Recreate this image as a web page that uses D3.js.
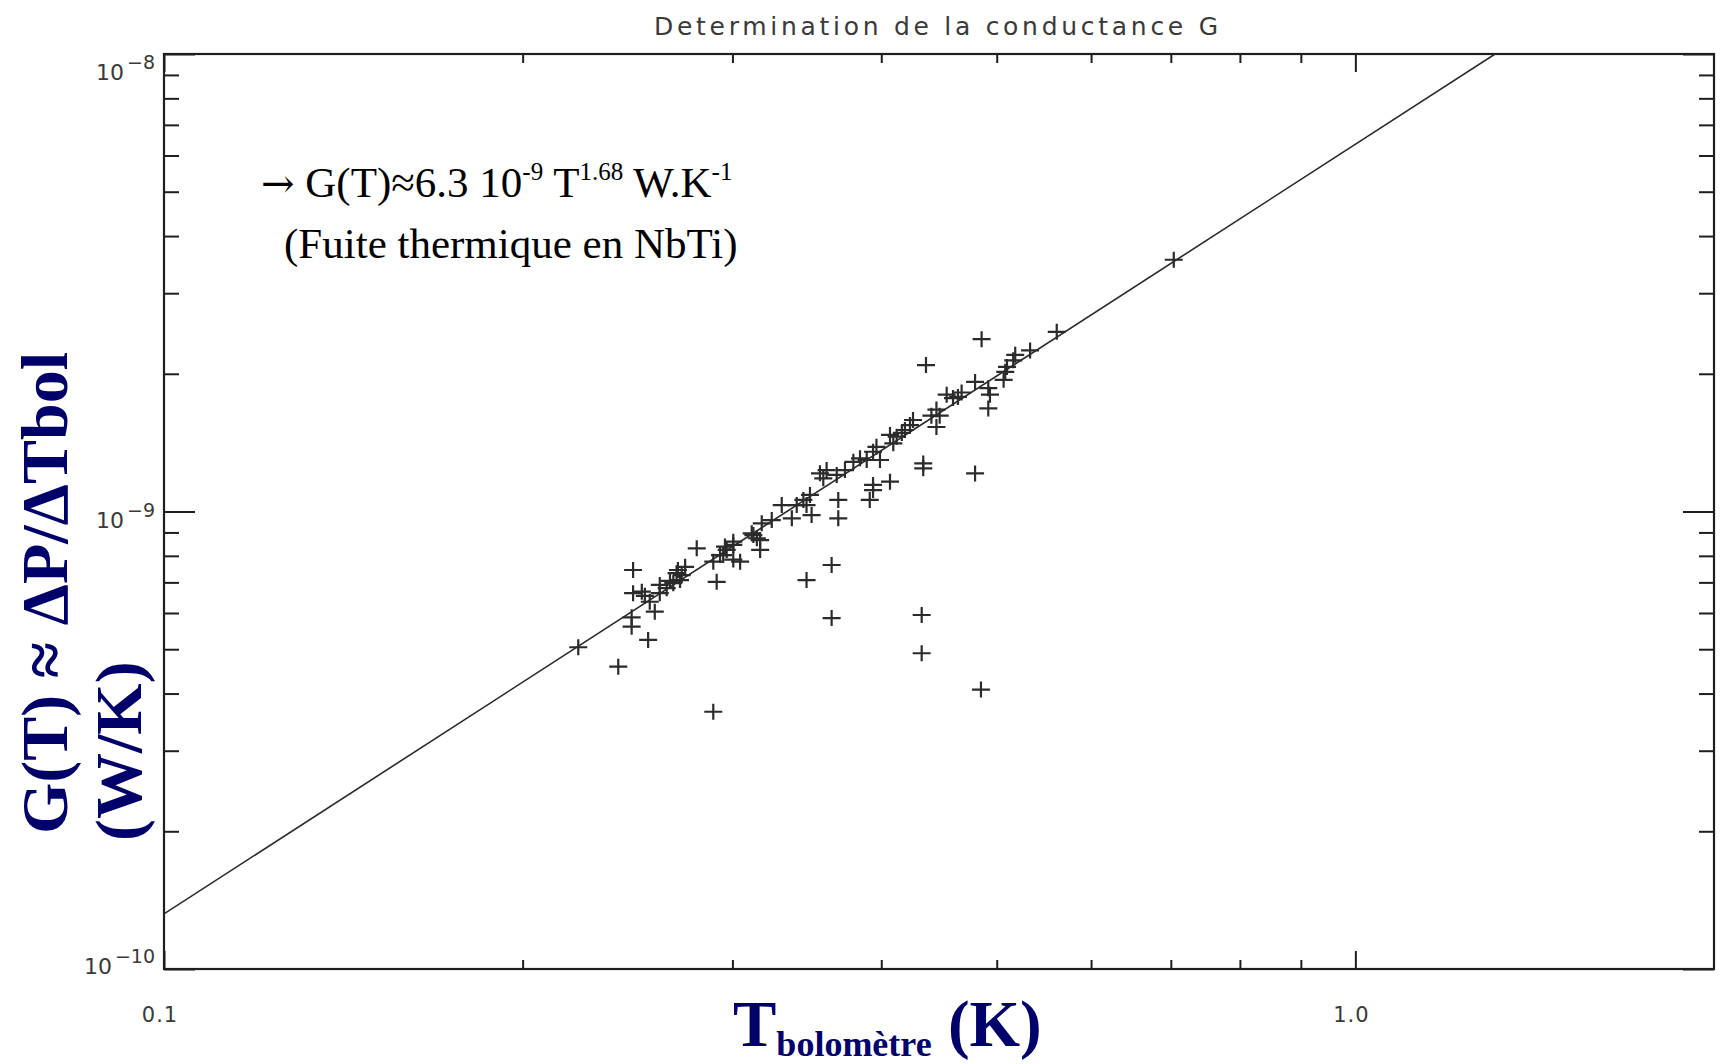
<!DOCTYPE html>
<html><head><meta charset="utf-8">
<script src="https://cdn.jsdelivr.net/npm/d3@7"></script>
<style>body{margin:0;background:#fff}</style>
</head><body><svg id="c" width="1720" height="1064"></svg>
<script>
// ---------- data ----------
const tempK = [
 0.2227,0.2406,0.2476,0.2476,0.2469,0.2469,0.2549,0.2891,0.2910,0.3462,
 0.3634,0.3634,0.4325,0.4325,0.4850,0.3681,0.3681,0.3937,0.3937,0.3912,
 0.4068,0.4338,0.4338,0.4795,0.4919,0.4856,0.4361,0.5615,0.7040,0.5333,
 0.5182,0.5162,0.5100,0.5083,0.5067,0.4795,0.4919,0.4935,0.4639,0.4595,
 0.4539,0.4672,0.4450,0.4478,0.4407,0.4450,0.4253,0.4228,0.4187,0.4162,
 0.2518,0.2557,0.2582,0.2607,0.2642,0.2676,0.2711,0.2720,0.2738,0.2693,
 0.2800,0.2891,0.2929,0.2957,0.3005,0.3045,0.2967,0.3124,0.3165,0.3165,
 0.3005,0.2947,0.3114,0.3145,0.3175,0.3237,0.3300,0.3365,0.3397,0.3441,
 0.3485,0.3496,0.3462,0.3553,0.3599,0.3576,0.3670,0.3729,0.3790,0.3839,
 0.3889,0.3937,0.3990,0.3963,0.4068,0.4121,0.4094,
 0.2607,0.2659,0.2700,0.2533,0.3005
];
const condWK = [
 5.05e-10,4.58e-10,7.45e-10,6.63e-10,5.87e-10,5.60e-10,5.24e-10,3.65e-10,7.02e-10,7.08e-10,
 7.64e-10,5.85e-10,5.94e-10,4.90e-10,4.08e-10,1.06e-9,9.66e-10,1.143e-9,1.114e-9,1.06e-9,
 1.162e-9,1.274e-9,1.243e-9,1.211e-9,1.68e-9,2.38e-9,2.09e-9,2.47e-9,3.55e-9,2.25e-9,
 2.20e-9,2.14e-9,2.07e-9,2.02e-9,1.94e-9,1.92e-9,1.86e-9,1.80e-9,1.78e-9,1.77e-9,
 1.80e-9,1.82e-9,1.67e-9,1.62e-9,1.62e-9,1.53e-9,1.585e-9,1.545e-9,1.507e-9,1.485e-9,
 6.68e-10,6.35e-10,6.04e-10,6.63e-10,6.80e-10,6.97e-10,7.08e-10,7.26e-10,7.57e-10,7.33e-10,
 8.31e-10,7.77e-10,8.03e-10,8.38e-10,8.45e-10,7.77e-10,8.24e-10,8.88e-10,8.24e-10,8.66e-10,
 8.59e-10,8.03e-10,8.96e-10,8.74e-10,9.42e-10,9.58e-10,1.033e-9,9.66e-10,1.033e-9,1.06e-9,
 1.087e-9,9.82e-10,1.033e-9,1.212e-9,1.232e-9,1.182e-9,1.202e-9,1.232e-9,1.284e-9,1.307e-9,
 1.296e-9,1.351e-9,1.296e-9,1.385e-9,1.47e-9,1.457e-9,1.409e-9,
 6.91e-10,7.05e-10,7.45e-10,6.54e-10,7.85e-10
];
const fitT = [0.1, 1.31];
const fitG = [1.32e-10, 1.0e-8];
const xMinorTicks = [0.2,0.3,0.4,0.5,0.6,0.7,0.8,0.9];
const xMajorTicks = [0.1,1.0];
const xTickLabels = ["0.1","1.0"];
const yMinorTicks = [2e-10,3e-10,4e-10,5e-10,6e-10,7e-10,8e-10,9e-10,2e-9,3e-9,4e-9,5e-9,6e-9,7e-9,8e-9,9e-9];
const yMajorTicks = [1e-10,1e-9,1e-8];
const yTickExps = ["\u221210","\u22129","\u22128"];
const titleText = "Determination de la conductance G";
const xTitleMain = "T", xTitleSub = "bolomètre", xTitleUnit = " (K)";
const yTitleLine1 = "G(T) \u2248 \u0394P/\u0394Tbol", yTitleLine2 = "(W/K)";
const noteLine2 = "(Fuite thermique en NbTi)";

// ---------- layout ----------
const L = 164, R = 1714, T = 54, B = 969;
const svg = d3.select("#c");
const x = d3.scaleLog().domain([0.1, 2.0]).range([L, R]);
const y = d3.scaleLog().domain([1e-10, 1e-8]).range([B, T]);
const ink = "#1e1e1e", navy = "#00006a";

svg.append("defs").append("clipPath").attr("id","pc")
  .append("rect").attr("x",L).attr("y",T).attr("width",R-L).attr("height",B-T);

function axis(gen, scale, tf, vals, len){
  svg.append("g").attr("transform",tf).attr("color",ink)
    .call(gen(scale).tickValues(vals).tickSizeInner(-len).tickSizeOuter(0).tickFormat(""))
    .call(s=>{s.select(".domain").remove(); s.selectAll("line").attr("stroke-width",2);});
}
axis(d3.axisBottom, x, `translate(0,${B})`, xMinorTicks, 9);
axis(d3.axisBottom, x, `translate(0,${B})`, xMajorTicks, 18);
axis(d3.axisTop, x, `translate(0,${T})`, xMinorTicks, 9);
axis(d3.axisTop, x, `translate(0,${T})`, xMajorTicks, 18);
axis(d3.axisLeft, y, `translate(${L},0)`, yMinorTicks, 15);
axis(d3.axisLeft, y, `translate(${L},0)`, yMajorTicks, 31);
axis(d3.axisRight, y, `translate(${R},0)`, yMinorTicks, 15);
axis(d3.axisRight, y, `translate(${R},0)`, yMajorTicks, 31);

svg.append("rect").attr("x",L).attr("y",T).attr("width",R-L).attr("height",B-T)
  .attr("fill","none").attr("stroke",ink).attr("stroke-width",2.2);

// tick labels
const tickFont = "'DejaVu Sans', Verdana, sans-serif";
xMajorTicks.forEach((v,i)=>{
  svg.append("text").attr("x",x(v)-4).attr("y",1022).attr("text-anchor","middle")
    .attr("font-family",tickFont).attr("font-size",21).attr("fill","#3a3a3a")
    .attr("letter-spacing",1).text(xTickLabels[i]);
});
const yLabOff = [5, 16, 26];
yMajorTicks.forEach((v,i)=>{
  const t = svg.append("text").attr("x",155).attr("y",y(v)+yLabOff[i]).attr("text-anchor","end")
    .attr("font-family",tickFont).attr("fill","#3a3a3a");
  t.append("tspan").attr("font-size",22).text("10");
  t.append("tspan").attr("font-size",19).attr("dx",3).attr("dy",-11).text(yTickExps[i]);
});

// title
svg.append("text").attr("x",936).attr("y",35).attr("text-anchor","middle")
  .attr("font-family",tickFont).attr("font-size",25).attr("fill","#3a3a3a")
  .attr("textLength",564).attr("lengthAdjust","spacing").text(titleText);

// fit line
svg.append("path").datum(d3.zip(fitT, fitG)).attr("clip-path","url(#pc)")
  .attr("d", d3.line().x(d=>x(d[0])).y(d=>y(d[1])))
  .attr("fill","none").attr("stroke","#2a2a2a").attr("stroke-width",1.6);

// data crosses
svg.append("g").attr("clip-path","url(#pc)").selectAll("path").data(d3.zip(tempK, condWK)).join("path")
  .attr("d", d=>{const px=x(d[0]), py=y(d[1]); return `M${px-9},${py}H${px+9}M${px},${py-8}V${py+8}`;})
  .attr("stroke","#2b2b2b").attr("stroke-width",2.2).attr("fill","none");

// annotation
const serif = "'Liberation Serif', 'Times New Roman', Times, serif";
const n1 = svg.append("text").attr("x",261).attr("y",197).attr("font-family",serif).attr("font-size",43).attr("fill","#000");
n1.append("tspan").attr("font-family","'DejaVu Serif', serif").attr("font-size",40).text("\u2192");
n1.append("tspan").text(" G(T)\u22486.3 10");
n1.append("tspan").attr("font-size",25).attr("dy",-17).text("-9");
n1.append("tspan").attr("dy",17).text(" T");
n1.append("tspan").attr("font-size",25).attr("dy",-17).text("1.68");
n1.append("tspan").attr("dy",17).text(" W.K");
n1.append("tspan").attr("font-size",25).attr("dy",-17).text("-1");
svg.append("text").attr("x",284).attr("y",258).attr("font-family",serif).attr("font-size",43)
  .attr("fill","#000").text(noteLine2);

// axis titles
const xt = svg.append("text").attr("x",733).attr("y",1046).attr("font-family",serif)
  .attr("font-weight","bold").attr("fill",navy).attr("font-size",65);
xt.append("tspan").text(xTitleMain);
xt.append("tspan").attr("font-size",36).attr("dy",10).text(xTitleSub);
xt.append("tspan").attr("dy",-10).text(xTitleUnit);

svg.append("text").attr("transform","translate(67,834) rotate(-90)").attr("font-family",serif)
  .attr("font-weight","bold").attr("fill",navy).attr("font-size",66).text(yTitleLine1);
svg.append("text").attr("transform","translate(141,841) rotate(-90)").attr("font-family",serif)
  .attr("font-weight","bold").attr("fill",navy).attr("font-size",66).text(yTitleLine2);
</script></body></html>
